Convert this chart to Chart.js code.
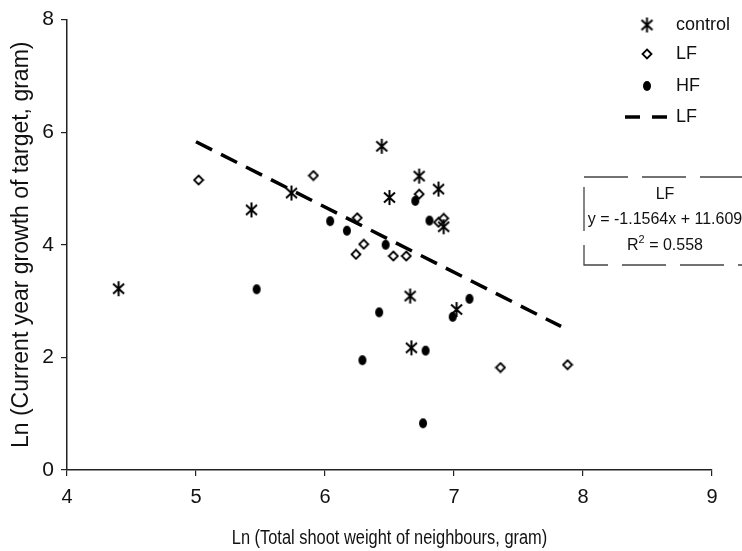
<!DOCTYPE html>
<html lang="en">
<head>
<meta charset="UTF-8" />
<title>Target growth vs neighbour shoot weight</title>
<script src="https://cdn.jsdelivr.net/npm/chart.js"></script>
<style>
  body { margin: 0; background: #fff; }
  #wrap { width: 742px; height: 551px; }
</style>
</head>
<body>
<div id="wrap"><canvas id="scatterChart" width="742" height="551"></canvas></div>
<script>
// values (both axes are ln values)
const controlX = [4.40, 5.43, 5.74, 6.44, 6.50, 6.73, 6.88, 6.92, 6.66, 7.02, 6.67];
const controlY = [3.22, 4.62, 4.92, 5.75, 4.84, 5.22, 4.99, 4.32, 3.09, 2.85, 2.17];
const lfX = [5.02, 5.91, 6.25, 6.30, 6.24, 6.53, 6.63, 6.73, 6.88, 6.92, 7.36, 7.88];
const lfY = [5.15, 5.23, 4.48, 4.01, 3.83, 3.80, 3.80, 4.90, 4.40, 4.47, 1.82, 1.87];
const hfX = [5.47, 6.04, 6.17, 6.42, 6.47, 6.70, 6.81, 7.12, 6.99, 6.78, 6.29, 6.76];
const hfY = [3.21, 4.42, 4.25, 2.80, 4.00, 4.78, 4.43, 3.04, 2.72, 2.12, 1.95, 0.83];
// LF regression line end points
const trendX = [5.0, 7.83];
const trendY = [5.83, 2.55];
const xTicks = [4, 5, 6, 7, 8, 9];
const yTicks = [0, 2, 4, 6, 8];
const legendLabels = ['control', 'LF', 'HF', 'LF'];
const eqLines = ['LF', 'y = -1.1564x + 11.609', '0.558'];
const xTitle = 'Ln (Total shoot weight of neighbours, gram)';
const yTitle = 'Ln (Current year growth of target, gram)';

const FONT = '"Liberation Sans", Arial, sans-serif';

function toPoints(xs, ys) {
  return xs.map((x, i) => ({ x: x, y: ys[i] }));
}

// marker images
function makeAsterisk() {
  const c = document.createElement('canvas');
  c.width = 15; c.height = 17;
  const g = c.getContext('2d');
  g.strokeStyle = '#000';
  g.lineWidth = 2;
  g.beginPath();
  g.moveTo(7.5, 1); g.lineTo(7.5, 16);
  g.moveTo(2, 3.5); g.lineTo(13, 13.5);
  g.moveTo(13, 3.5); g.lineTo(2, 13.5);
  g.stroke();
  return c;
}
function makeDiamond() {
  const c = document.createElement('canvas');
  c.width = 12; c.height = 12;
  const g = c.getContext('2d');
  g.fillStyle = '#fff';
  g.strokeStyle = '#000';
  g.lineWidth = 1.8;
  g.beginPath();
  g.moveTo(6, 1.5); g.lineTo(10.5, 6); g.lineTo(6, 10.5); g.lineTo(1.5, 6);
  g.closePath();
  g.fill();
  g.stroke();
  return c;
}
function makeDot() {
  const c = document.createElement('canvas');
  c.width = 10; c.height = 12;
  const g = c.getContext('2d');
  g.fillStyle = '#000';
  g.beginPath();
  g.ellipse(5, 6, 4, 5, 0, 0, Math.PI * 2);
  g.fill();
  return c;
}
const asteriskImg = makeAsterisk();
const diamondImg = makeDiamond();
const dotImg = makeDot();

// legend, equation box and the (condensed) x axis title
const sideLegend = {
  id: 'sideLegend',
  afterDraw(chart) {
    const ctx = chart.ctx;
    const area = chart.chartArea;
    ctx.save();
    ctx.fillStyle = '#111';
    ctx.textBaseline = 'middle';

    // x title, squeezed horizontally like the original
    ctx.save();
    ctx.translate((area.left + area.right) / 2, 538);
    ctx.scale(0.82, 1);
    ctx.font = '20px ' + FONT;
    ctx.textAlign = 'center';
    ctx.fillText(xTitle, 0, 0);
    ctx.restore();

    ctx.font = '18px ' + FONT;
    const rows = [25, 54, 86, 117];
    const imgs = [asteriskImg, diamondImg, dotImg];
    imgs.forEach((img, i) => {
      ctx.drawImage(img, 647 - img.width / 2, rows[i] - img.height / 2);
    });
    ctx.strokeStyle = '#000';
    ctx.lineWidth = 3.5;
    ctx.setLineDash([15, 12]);
    ctx.beginPath();
    ctx.moveTo(625, rows[3]);
    ctx.lineTo(668, rows[3]);
    ctx.stroke();
    ctx.textAlign = 'left';
    legendLabels.forEach((t, i) => ctx.fillText(t, 676, rows[i]));

    // equation box
    ctx.lineWidth = 1.3;
    ctx.strokeStyle = '#444';
    ctx.setLineDash([44, 14]);
    ctx.strokeRect(584, 177, 200, 88);
    ctx.setLineDash([]);
    ctx.font = '16px ' + FONT;
    ctx.textAlign = 'center';
    ctx.fillText(eqLines[0], 665, 195);
    ctx.fillText(eqLines[1], 665, 220);
    // R squared with a raised 2
    const rest = ' = ' + eqLines[2];
    ctx.textAlign = 'left';
    const wR = ctx.measureText('R').width;
    ctx.font = '11px ' + FONT;
    const w2 = ctx.measureText('2').width;
    ctx.font = '16px ' + FONT;
    const wRest = ctx.measureText(rest).width;
    let x0 = 665 - (wR + w2 + wRest) / 2;
    ctx.fillText('R', x0, 246);
    ctx.font = '11px ' + FONT;
    ctx.fillText('2', x0 + wR, 240);
    ctx.font = '16px ' + FONT;
    ctx.fillText(rest, x0 + wR + w2, 246);
    ctx.restore();
  }
};

const axisGrid = { drawOnChartArea: false, drawTicks: true, tickLength: 6, color: '#222', lineWidth: 1.2 };
const axisBorder = { display: true, color: '#222', width: 1.5 };

const ctx = document.getElementById('scatterChart').getContext('2d');
new Chart(ctx, {
  type: 'scatter',
  data: {
    datasets: [
      { label: 'control', data: toPoints(controlX, controlY), pointStyle: asteriskImg, pointRadius: 6 },
      { label: 'LF', data: toPoints(lfX, lfY), pointStyle: diamondImg, pointRadius: 5 },
      { label: 'HF', data: toPoints(hfX, hfY), pointStyle: dotImg, pointRadius: 5 },
      {
        label: 'LF', type: 'line', data: toPoints(trendX, trendY),
        borderColor: '#000', borderWidth: 3.5, borderDash: [18, 10],
        pointRadius: 0, fill: false
      }
    ]
  },
  options: {
    responsive: false,
    animation: false,
    layout: { padding: { left: 0, top: 16, right: 30, bottom: 0 } },
    plugins: { legend: { display: false }, tooltip: { enabled: false } },
    scales: {
      x: {
        type: 'linear',
        min: xTicks[0], max: xTicks[xTicks.length - 1],
        ticks: { stepSize: 1, color: '#111', padding: 9, font: { family: FONT, size: 20 } },
        grid: axisGrid,
        border: axisBorder,
        title: { display: false, text: xTitle },
        afterFit: s => { s.height = 81; }
      },
      y: {
        type: 'linear',
        min: yTicks[0], max: yTicks[yTicks.length - 1],
        ticks: { stepSize: 2, color: '#111', padding: 7, font: { family: FONT, size: 21 } },
        grid: axisGrid,
        border: axisBorder,
        title: {
          display: true, text: yTitle,
          color: '#111', font: { family: FONT, size: 23 }, padding: { top: 8, bottom: 0 }
        },
        afterFit: s => { s.width = 67; }
      }
    }
  },
  plugins: [sideLegend]
});
</script>
</body>
</html>
